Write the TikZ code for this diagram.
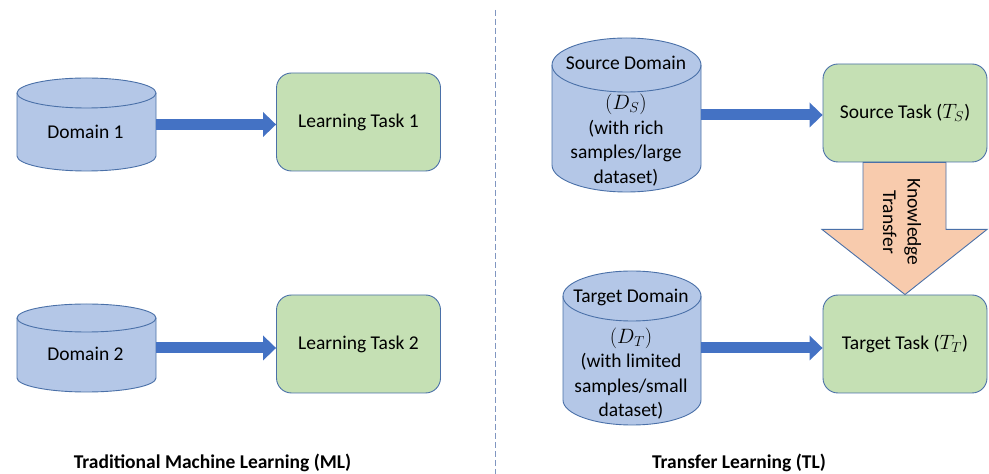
\documentclass[tikz,border=0pt]{standalone}
\usepackage{fontspec}
\setmainfont{Carlito}
\usetikzlibrary{arrows.meta,calc}
\definecolor{cylfill}{HTML}{B4C7E7}
\definecolor{boxfill}{HTML}{C5E0B4}
\definecolor{edge}{HTML}{4A70A8}
\definecolor{arrowblue}{HTML}{4472C4}
\definecolor{ktfill}{HTML}{F8CBAD}
\definecolor{dashcol}{HTML}{8096C0}
\newcommand\dbcyl[6]{%
 \pgfmathsetmacro\cylcx{(#2+#3)/2}%
 \pgfmathsetmacro\cylrx{(#3-#2)/2}%
 \pgfmathsetmacro\cyltop{474-#4-#6}%
 \pgfmathsetmacro\cylbot{474-#5+#6}%
 \filldraw[cylstyle] (#2,\cyltop) -- (#2,\cylbot) arc[start angle=180,end angle=360,x radius=\cylrx,y radius=#6] -- (#3,\cyltop) arc[start angle=0,end angle=180,x radius=\cylrx,y radius=#6] -- cycle;
 \draw[cylstyle,fill=none] (#2,\cyltop) arc[start angle=180,end angle=360,x radius=\cylrx,y radius=#6];
 \node[inner sep=0pt,minimum width={#3-#2},minimum height={#5-#4}] (#1) at (\cylcx,{474-(#4+#5)/2}) {};
}
\begin{document}
\begin{tikzpicture}[x=1pt,y=1pt,
  every node/.style={font=\fontsize{19.5}{24.5}\selectfont},
  cylstyle/.style={draw=edge,fill=cylfill,line width=0.9pt},
  taskbox/.style={draw=edge,fill=boxfill,line width=0.9pt,rounded corners=15pt,minimum width=164pt,minimum height=98pt,inner sep=0pt},
  flow/.style={draw=arrowblue,line width=11pt,-{Triangle[length=13pt,width=25pt,line width=0pt]}},
  ktarrow/.style={draw=edge,fill=ktfill,line width=0.9pt},
  caption/.style={font=\fontsize{19.5}{24}\selectfont\bfseries},
]
\useasboundingbox (0,0) rectangle (989,474);
% divider
\draw[dashcol,line width=0.8pt,dash pattern=on 6pt off 3pt] (495,464) -- (495,0);
% left side
\dbcyl{d1}{17}{156}{78}{171}{15}
\dbcyl{d2}{17}{156}{304}{392}{14}
\node (d1l) at (85.5,{474-132}) {Domain 1};
\node (d2l) at (85.5,{474-354}) {Domain 2};
\node[taskbox] (t1) at (358.5,{474-122}) {Learning Task 1};
\node[taskbox] (t2) at (358.5,{474-344}) {Learning Task 2};
\draw[flow] (d1.east) -- (d1.east -| t1.west);
\draw[flow] (d2.east) -- (d2.east -| t2.west);
% right side
\dbcyl{sd}{552}{701}{38}{192}{27}
\dbcyl{td}{563}{701}{271}{425}{25}
\node (sdl) at (626,{474-63}) {Source Domain};
\node[align=center] (sdb) at (626,{474-140}) {$(D_S)$\\(with rich\\samples/large\\dataset)};
\node (tdl) at (631,{474-297}) {Target Domain};
\node[align=center] (tdb) at (631,{474-373.5}) {$(D_T)$\\(with limited\\samples/small\\dataset)};
\node[taskbox] (st) at (905,{474-113}) {Source Task ($T_S$)};
\node[taskbox] (tt) at (905,{474-344}) {Target Task ($T_T$)};
\draw[flow] (sd.east) -- (sd.east -| st.west);
\draw[flow] (td.east) -- (td.east -| tt.west);
% knowledge transfer arrow
\draw[ktarrow] ([xshift=-42pt]st.south) -- ([xshift=-42pt,yshift=-67pt]st.south) -- ([xshift=-83pt,yshift=-67pt]st.south) -- (tt.north) -- ([xshift=82pt,yshift=-67pt]st.south) -- ([xshift=41pt,yshift=-67pt]st.south) -- ([xshift=41pt]st.south) -- cycle;
\node[align=center,rotate=-90] (ktl) at (902,{474-222}) {Knowledge\\Transfer};
% captions
\node[caption] (cap1) at (212.5,{474-462.5}) {Traditional Machine Learning (ML)};
\node[caption] (cap2) at (739,{474-462.5}) {Transfer Learning (TL)};
\end{tikzpicture}
\end{document}
